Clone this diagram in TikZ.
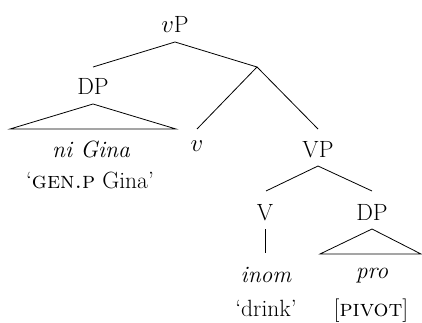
\documentclass[tikz,border=0pt]{standalone}
\usepackage{fontspec}
\begin{document}
\begin{tikzpicture}[x=1pt,y=1pt,
  lab/.style={anchor=base,inner sep=0pt,font=\fontsize{23.5}{28}\selectfont},
  br/.style={line width=0.8pt}]
\useasboundingbox (0,0) rectangle (422,322);
% labels
\node[lab] (vP) at (175,289) {$v$P};
\node[lab] (DP1) at (93,228) {DP};
\node[lab] (niGina) at (91,165) {\itshape ni Gina};
\node[lab] (gl1) at (90,134) {`\textsc{gen.p} Gina'};
\node[lab] (v) at (197,171) {$v$};
\node[lab] (VP) at (318,165) {VP};
\node[lab] (V) at (265,102) {V};
\node[lab] (DP2) at (372,102) {DP};
\node[lab] (inom) at (266,40) {\itshape inom};
\node[lab] (pro) at (372,44) {\itshape pro};
\node[lab] (drink) at (266,6) {`drink'};
\node[lab] (pivot) at (371,6) {[\textsc{pivot}]};
% coordinates
\coordinate (vPb) at (175,280);
\coordinate (DP1t) at (93,255);
\coordinate (Xn) at (257,255);
\coordinate (T1a) at (93,218);
\coordinate (T1l) at (10,193);
\coordinate (T1r) at (176,193);
\coordinate (vt) at (197,193);
\coordinate (VPt) at (318,193);
\coordinate (VPb) at (318,156);
\coordinate (Vt) at (266,131);
\coordinate (DP2t) at (372,131);
\coordinate (Vb) at (265,93);
\coordinate (inomt) at (265,69);
\coordinate (T2a) at (372,93);
\coordinate (T2l) at (320,68);
\coordinate (T2r) at (421,68);
% branches
\draw[br] (DP1t) -- (vPb) -- (Xn);
\draw[br] (vt) -- (Xn) -- (VPt);
\draw[br] (T1l) -- (T1a) -- (T1r) -- cycle;
\draw[br] (Vt) -- (VPb) -- (DP2t);
\draw[br] (Vb) -- (inomt);
\draw[br] (T2l) -- (T2a) -- (T2r) -- cycle;
\end{tikzpicture}
\end{document}
